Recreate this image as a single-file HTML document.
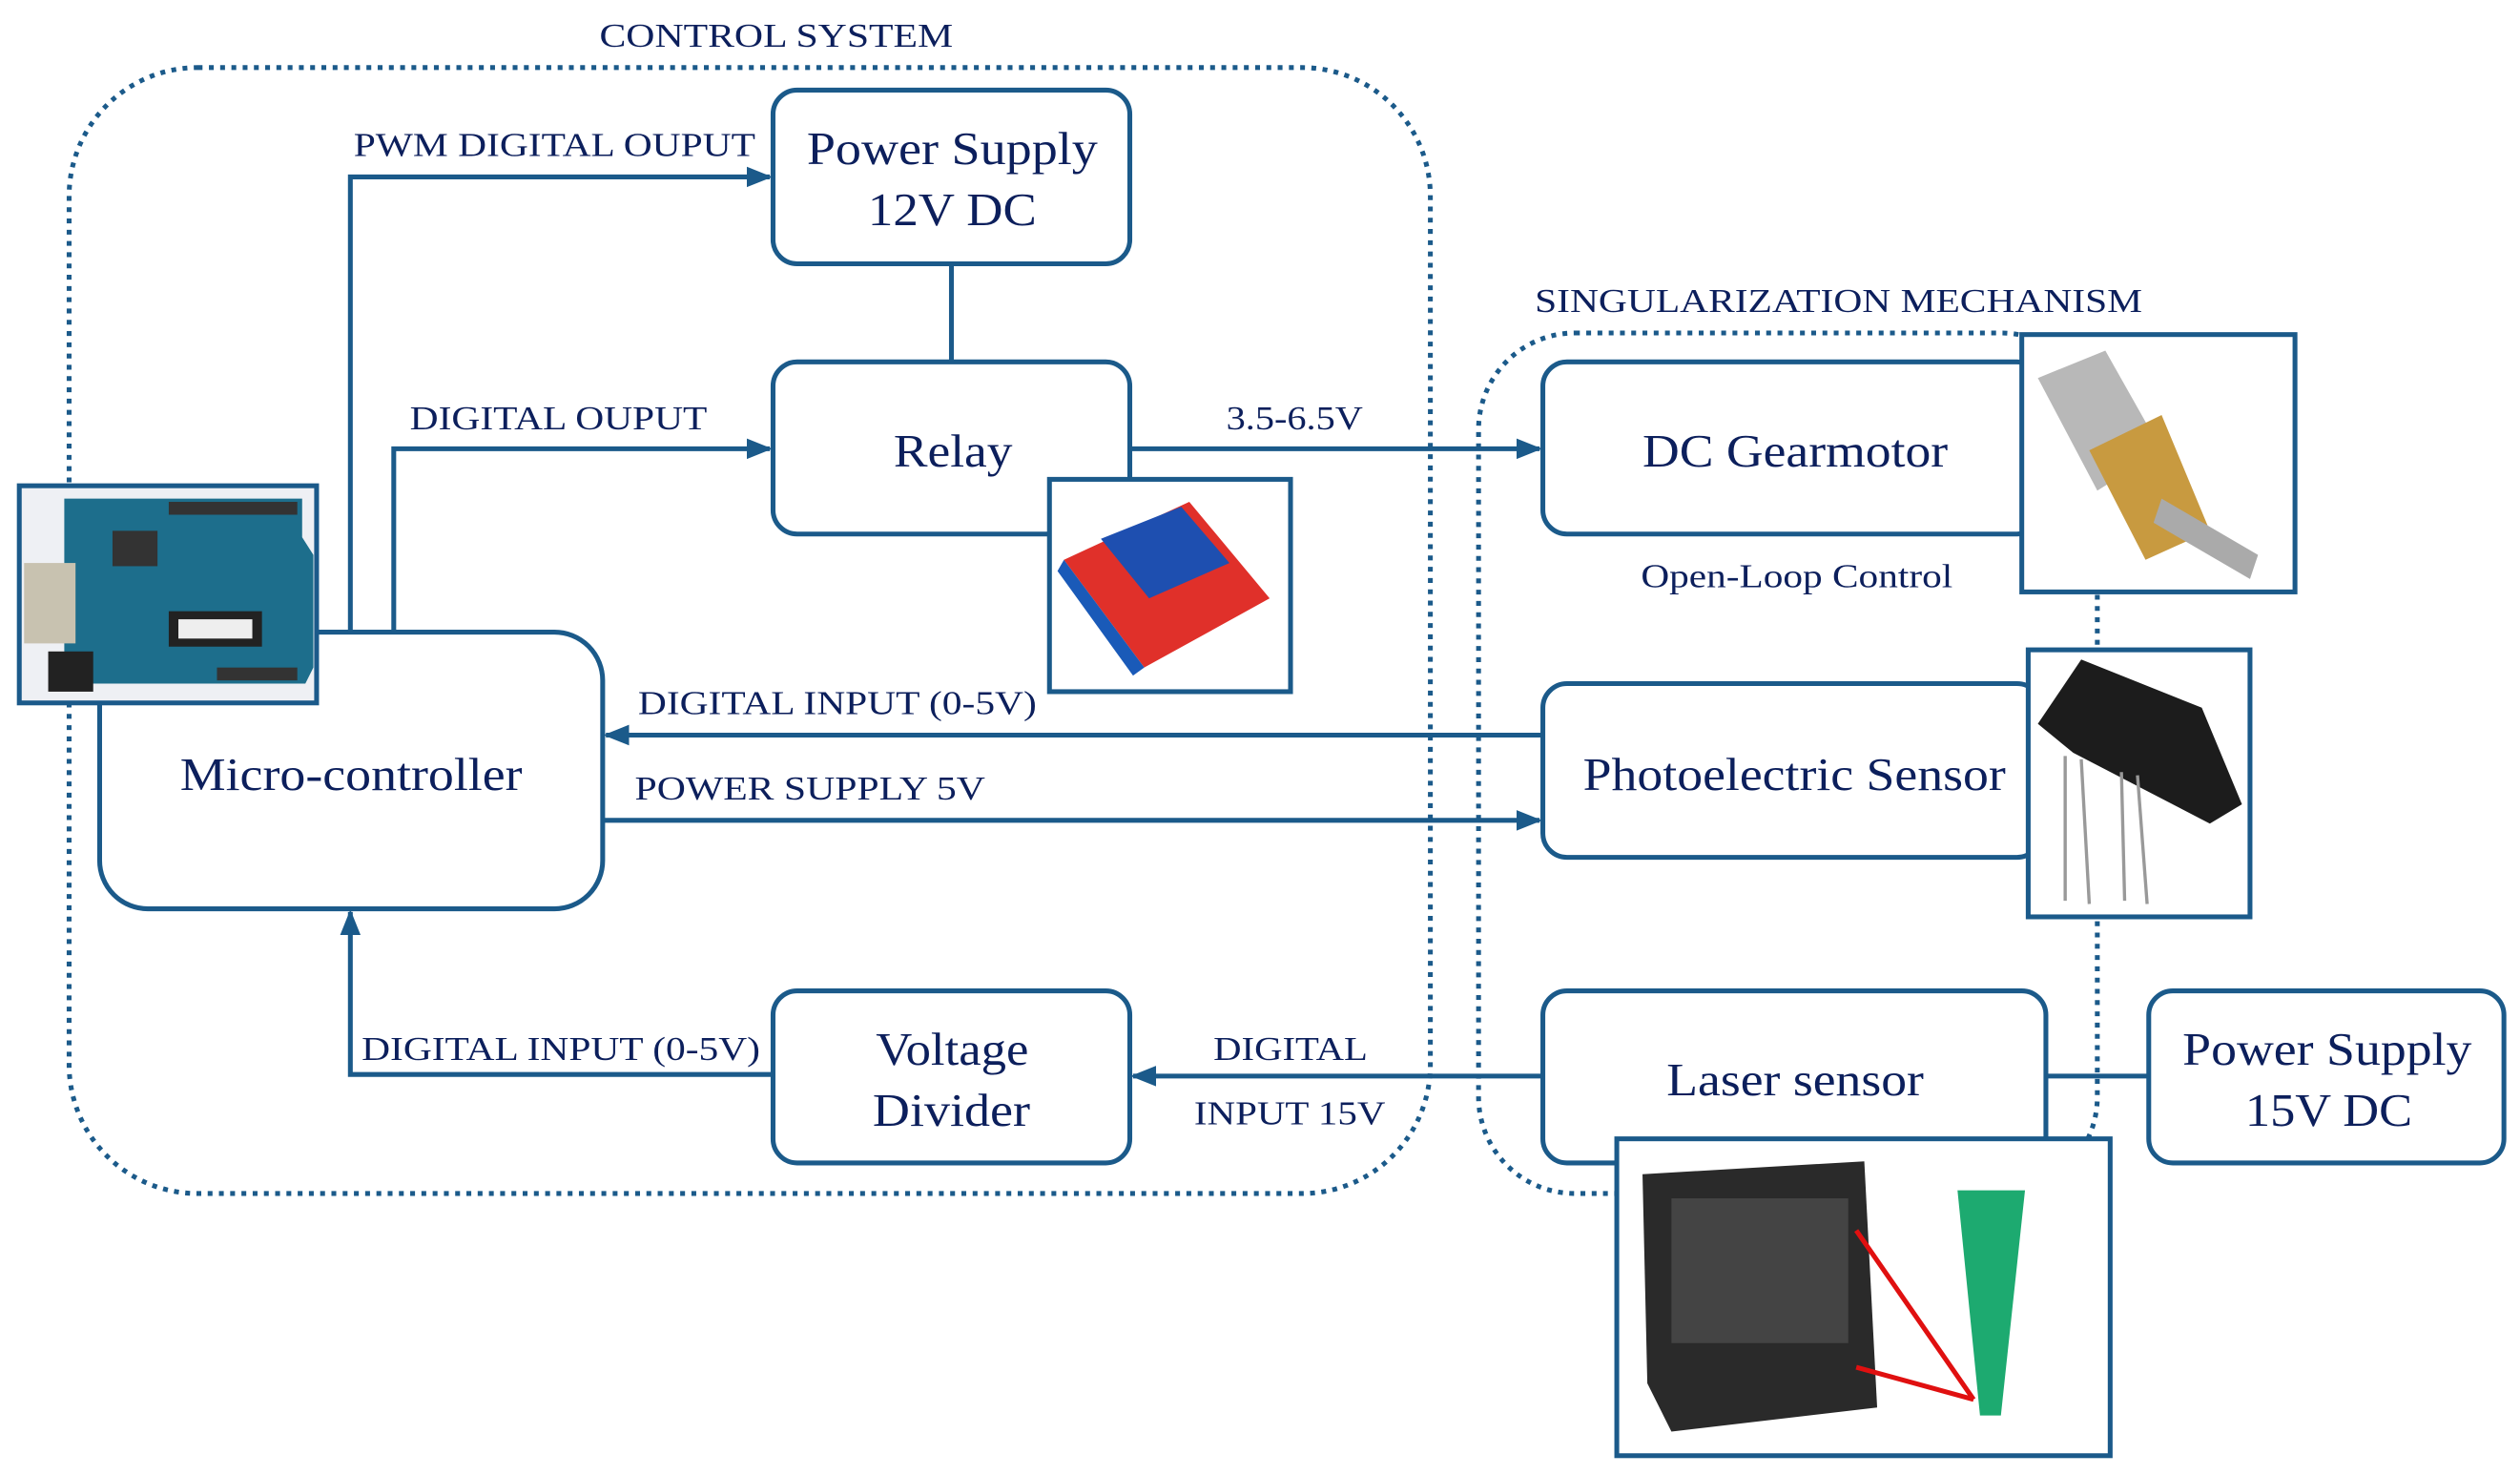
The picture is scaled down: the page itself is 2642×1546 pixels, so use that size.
<!DOCTYPE html>
<html><head><meta charset="utf-8"><style>
html,body{margin:0;padding:0;background:#fff}
svg{display:block}
</style></head><body>
<svg width="2642" height="1546" viewBox="0 0 1568 917" preserveAspectRatio="none">
<defs>
<marker id="ah" viewBox="0 0 10 10" refX="9" refY="5" markerWidth="16" markerHeight="16" orient="auto" markerUnits="userSpaceOnUse"><path d="M0,1L10,5L0,9z" fill="#1b5a8a"/></marker>
<clipPath id="c1"><rect x="12" y="302" width="185" height="135"/></clipPath>
</defs>
<g fill="none" stroke="#1b5a8a" stroke-width="3" stroke-dasharray="3,4">
<rect x="43" y="42" width="847" height="700" rx="80"/>
<rect x="920" y="207" width="385" height="535" rx="60"/>
</g>
<g fill="#fff" stroke="#1b5a8a" stroke-width="3">
<rect x="481" y="56" width="222" height="108" rx="15"/>
<rect x="481" y="225" width="222" height="107" rx="15"/>
<rect x="62" y="393" width="313" height="172" rx="30"/>
<rect x="481" y="616" width="222" height="107" rx="15"/>
<rect x="960" y="225" width="310" height="107" rx="15"/>
<rect x="960" y="425" width="310" height="108" rx="15"/>
<rect x="960" y="616" width="313" height="107" rx="15"/>
<rect x="1337" y="616" width="221" height="107" rx="15"/>
</g>
<g fill="none" stroke="#1b5a8a" stroke-width="3" marker-end="url(#ah)">
<path d="M218,393V110H479"/>
<path d="M245,393V279H479"/>
<path d="M703,279H958"/>
<path d="M960,457H377"/>
<path d="M375,510H958"/>
<path d="M481,668H218V567"/>
<path d="M960,669H705"/>
</g>
<g stroke="#1b5a8a" stroke-width="3">
<path d="M592,164V225"/>
<path d="M1273,669H1337"/>
</g>
<g font-family="Liberation Serif, DejaVu Serif, serif" fill="#0c1f5c" font-size="29" lengthAdjust="spacingAndGlyphs">
<text x="502" y="102" textLength="181" lengthAdjust="spacingAndGlyphs">Power Supply</text>
<text x="540" y="140" textLength="105" lengthAdjust="spacingAndGlyphs">12V DC</text>
<text x="556" y="290" textLength="74" lengthAdjust="spacingAndGlyphs">Relay</text>
<text x="112" y="491" textLength="213" lengthAdjust="spacingAndGlyphs">Micro-controller</text>
<text x="545" y="662" textLength="95" lengthAdjust="spacingAndGlyphs">Voltage</text>
<text x="543" y="700" textLength="98" lengthAdjust="spacingAndGlyphs">Divider</text>
<text x="1022" y="290" textLength="190" lengthAdjust="spacingAndGlyphs">DC Gearmotor</text>
<text x="985" y="491" textLength="263" lengthAdjust="spacingAndGlyphs">Photoelectric Sensor</text>
<text x="1037" y="681" textLength="160" lengthAdjust="spacingAndGlyphs">Laser sensor</text>
<text x="1358" y="662" textLength="180" lengthAdjust="spacingAndGlyphs">Power Supply</text>
<text x="1397" y="700" textLength="104" lengthAdjust="spacingAndGlyphs">15V DC</text>
</g>
<g font-family="Liberation Serif, DejaVu Serif, serif" fill="#0c1f5c" font-size="21">
<text x="373" y="29" textLength="220" lengthAdjust="spacingAndGlyphs">CONTROL SYSTEM</text>
<text x="955" y="194" textLength="378" lengthAdjust="spacingAndGlyphs">SINGULARIZATION MECHANISM</text>
<text x="220" y="97" textLength="250" lengthAdjust="spacingAndGlyphs">PWM DIGITAL OUPUT</text>
<text x="255" y="267" textLength="185" lengthAdjust="spacingAndGlyphs">DIGITAL OUPUT</text>
<text x="763" y="267" textLength="85" lengthAdjust="spacingAndGlyphs">3.5-6.5V</text>
<text x="397" y="444" textLength="248" lengthAdjust="spacingAndGlyphs">DIGITAL INPUT (0-5V)</text>
<text x="395" y="497" textLength="218" lengthAdjust="spacingAndGlyphs">POWER SUPPLY 5V</text>
<text x="225" y="659" textLength="248" lengthAdjust="spacingAndGlyphs">DIGITAL INPUT (0-5V)</text>
<text x="755" y="659" textLength="96" lengthAdjust="spacingAndGlyphs">DIGITAL</text>
<text x="743" y="699" textLength="119" lengthAdjust="spacingAndGlyphs">INPUT 15V</text>
<text x="1021" y="365" textLength="194" lengthAdjust="spacingAndGlyphs">Open-Loop  Control</text>
</g>
<!-- Arduino -->
<rect x="12" y="302" width="185" height="135" fill="#eef0f4" stroke="#1b5a8a" stroke-width="3"/>
<g clip-path="url(#c1)">
<path d="M40,310H188V334L195,345V415L190,425H40z" fill="#1d6e8c"/>
<rect x="15" y="350" width="32" height="50" fill="#c8c2b0"/>
<rect x="105" y="380" width="58" height="22" fill="#222"/><rect x="111" y="385" width="46" height="12" fill="#eee"/>
<rect x="30" y="405" width="28" height="25" fill="#222"/>
<rect x="105" y="312" width="80" height="8" fill="#333"/><rect x="135" y="415" width="50" height="8" fill="#333"/>
<rect x="70" y="330" width="28" height="22" fill="#333"/>
</g>
<!-- Relay -->
<rect x="653" y="298" width="150" height="132" fill="#fff" stroke="#1b5a8a" stroke-width="3"/>
<path d="M662,348L740,312L790,372L712,415z" fill="#e0302a"/>
<path d="M685,335L735,315L765,350L715,372z" fill="#1e4fb0"/>
<path d="M662,348L712,415L705,420L658,355z" fill="#1a5ab8"/>
<!-- Gearmotor -->
<rect x="1258" y="208" width="170" height="160" fill="#fff" stroke="#1b5a8a" stroke-width="3"/>
<path d="M1268,235L1310,218L1345,280L1305,305z" fill="#b8b8b8"/>
<path d="M1300,280L1345,258L1375,330L1335,348z" fill="#c89a40"/>
<path d="M1345,310L1405,345L1400,360L1340,325z" fill="#aaa"/>
<!-- Photoelectric -->
<rect x="1262" y="404" width="138" height="166" fill="#fff" stroke="#1b5a8a" stroke-width="3"/>
<path d="M1268,450L1295,410L1370,440L1395,500L1375,512L1290,468z" fill="#1c1c1c"/>
<path d="M1285,470L1285,560M1295,472L1300,562M1320,480L1322,560M1330,482L1336,562" stroke="#999" stroke-width="2"/>
<!-- Laser -->
<rect x="1006" y="708" width="307" height="197" fill="#fff" stroke="#1b5a8a" stroke-width="3"/>
<path d="M1022,730L1160,722L1168,875L1040,890L1025,860z" fill="#2a2a2a"/>
<rect x="1040" y="745" width="110" height="90" fill="#444"/>
<path d="M1218,740H1260L1245,880H1232z" fill="#1daa70"/>
<path d="M1155,765L1228,870M1155,850L1228,870" stroke="#e01010" stroke-width="3"/>
</svg>
</body></html>
